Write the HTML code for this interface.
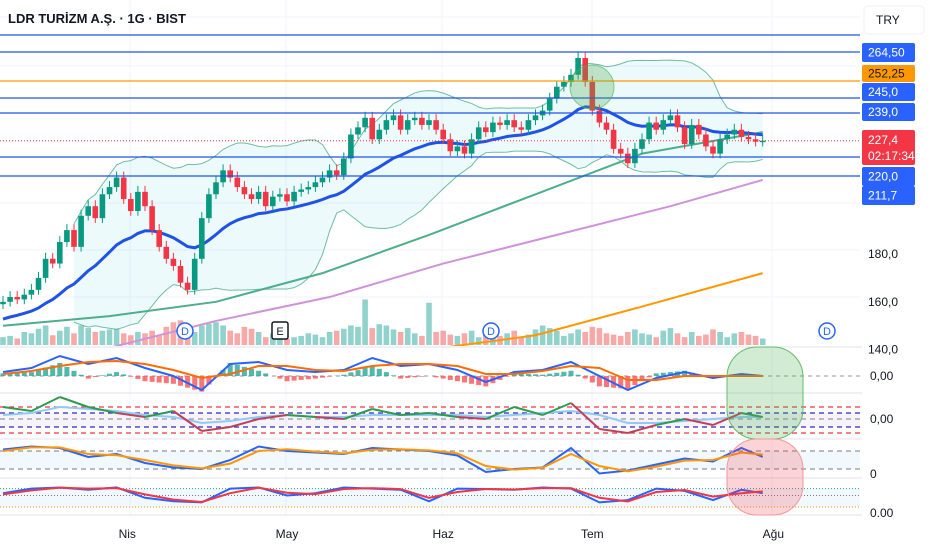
<!DOCTYPE html>
<html><head><meta charset="utf-8"><style>
body{margin:0;background:#fff;font-family:"Liberation Sans",sans-serif}
#wrap{position:relative;width:932px;height:550px;overflow:hidden}
svg{position:absolute;left:0;top:0}
</style></head><body>
<div id="wrap">
<svg id="c" width="932" height="550"></svg>
</div>
<script>
// ---------- DATA ----------
const closes=[160,162,161,163,165,170,178,176,185,190,183,196,200,195,205,208,212,203,198,206,200,190,183,178,175,168,165,178,195,205,210,215,212,208,205,203,206,200,204,205,202,206,207,208,210,212,215,213,220,230,233,237,228,232,236,238,232,236,237,234,236,232,228,223,225,222,228,233,231,235,234,236,233,232,236,238,240,245,250,252,255,262,252,240,235,232,224,222,218,224,228,235,232,236,238,233,226,234,230,225,222,228,230,232,229,228,227,227.4];
const volumes=[12,14,10,20,18,25,30,15,22,28,18,30,26,20,22,24,25,18,15,20,18,22,14,28,35,38,32,20,30,33,35,30,22,18,28,25,20,12,18,16,10,12,14,18,16,12,20,22,25,30,28,70,26,32,30,24,20,26,18,14,65,20,22,16,14,18,22,12,20,26,14,18,22,12,16,24,30,26,22,14,18,24,20,28,26,18,16,14,20,24,18,16,12,22,26,18,12,20,14,16,24,20,12,18,20,16,14,10];
const ma50Idx=[0,15,30,45,60,75,90,107];
const ma50=[150,154,160,172,188,205,222,231];
const ma100Idx=[14,30,46,62,78,94,107];
const ma100=[140,152,162,176,188,200,211];
const ma200Idx=[60,75,90,107];
const ma200=[140,146,158,172];
const oscIdx=[0,4,8,12,16,20,24,28,32,36,40,44,48,52,56,60,64,68,72,76,80,84,88,92,96,100,104,107];
const macd=[4,8,20,12,18,8,0,-14,12,14,6,4,6,18,10,12,6,-6,4,6,14,0,-14,-2,4,-2,2,0];
const macdSig=[2,5,10,14,15,12,6,-2,2,10,10,6,5,10,12,12,10,2,2,5,10,8,-4,-4,0,0,0,0];
const osc2=[12,8,22,12,6,2,8,-12,-8,0,4,2,0,10,4,6,2,0,12,4,16,-10,-14,-6,0,-6,6,2];
const osc2Sig=[4,6,12,10,8,4,2,-4,-2,2,4,2,2,4,4,4,4,2,4,6,8,4,-4,-4,-2,0,2,2];
const stochK=[85,95,90,60,70,40,25,20,50,95,80,75,70,90,85,80,65,10,20,25,90,5,15,35,55,45,90,60];
const stochD=[80,92,92,70,66,50,32,22,38,80,86,78,72,84,86,82,72,30,18,24,70,30,12,28,48,50,75,68];
const rsiK=[60,80,85,75,85,40,25,20,80,85,50,60,85,80,75,25,80,78,75,85,80,20,30,80,70,30,75,60];
const rsiD=[55,72,84,80,82,55,32,22,60,84,62,56,78,82,78,40,65,78,76,82,82,40,24,65,74,45,60,68];
const priceTicks=[180,160,140];
const months=["Nis","May","Haz","Tem","Ağu"];
const monthIdx=[17.5,40,62,83,108.5];
// ---------- SCALES ----------
const X=i=>3+i*7.1;
const Y=v=>113+(239-v)*2.39;
const NS='http://www.w3.org/2000/svg';
const svg=document.getElementById('c');
function el(t,a,p){const e=document.createElementNS(NS,t);for(const k in a)e.setAttribute(k,a[k]);(p||svg).appendChild(e);return e;}
function txt(s,x,y,a){const e=el('text',Object.assign({x:x,y:y,'font-size':12,fill:'#131722','font-family':'Liberation Sans, sans-serif'},a||{}));e.textContent=s;return e;}
function poly(xs,ys,a){return el('polyline',Object.assign({points:xs.map((x,i)=>x+','+ys[i]).join(' '),fill:'none'},a));}
// grid
[130,286,442,592,772].forEach(x=>{const g=el('line',{x1:x,y1:0,x2:x,y2:515,stroke:'#f0f3fa'});

});
[17,66,203,250,297].forEach(y=>el('line',{x1:0,y1:y,x2:860,y2:y,stroke:'#f0f3fa'}));
[347,393,439,478,515].forEach(y=>{const l=el('line',{x1:0,y1:y,x2:932,y2:y,stroke:'#e0e3eb'});

});
// Bollinger
const up=[],lo=[];
closes.forEach((c,i)=>{const s=closes.slice(Math.max(0,i-19),i+1);const m=s.reduce((a,b)=>a+b)/s.length;const sd=Math.sqrt(s.reduce((a,b)=>a+(b-m)*(b-m),0)/s.length);up.push(m+2*sd);lo.push(m-2*sd);});
const B0=10;
const bIdx=[];for(let i=B0;i<closes.length;i++)bIdx.push(i);
const bbPts=bIdx.map(i=>X(i)+','+Y(up[i])).concat(bIdx.slice().reverse().map(i=>X(i)+','+Y(lo[i]))).join(' ');
const bb=el('polygon',{points:bbPts,fill:'rgba(0,188,212,0.07)',stroke:'none'});


const bu=poly(bIdx.map(X),bIdx.map(i=>Y(up[i])),{stroke:'#4caf8a',"stroke-width":1,opacity:0.8});


const bl=poly(bIdx.map(X),bIdx.map(i=>Y(lo[i])),{stroke:'#4caf8a',"stroke-width":1,opacity:0.8});


// volumes
closes.forEach((c,i)=>{const o=i?closes[i-1]:c;const h=volumes[i]*0.65;const r=el('rect',{x:X(i)-2.8,y:345-h,width:5.6,height:h,fill:c>=o?'rgba(38,166,154,0.5)':'rgba(239,83,80,0.5)'});

});
el('clipPath',{id:'mc'});
el('rect',{width:860,height:346},document.getElementById('mc'));
const gMain=el('g',{'clip-path':'url(#mc)'});
function maLine(idx,vals,col,w,name){const l=poly(idx.map(X),vals.map(Y),{stroke:col,'stroke-width':w});gMain.appendChild(l);

}
maLine(ma50Idx,ma50,'#4caf8a',2,'ma50-line');
maLine(ma100Idx,ma100,'#ce93d8',2,'ma100-line');
maLine(ma200Idx,ma200,'#ff9800',2,'ma200-line');
const ema=[];let e=152;closes.forEach(c=>{e=e+(c-e)*2/21;ema.push(e);});
maLine(closes.map((c,i)=>i),ema,'#1e53e5',3,'ema20-line');
[[35,'#1e53e5'],[52,'#1e53e5'],[98,'#1e53e5'],[113,'#1e53e5'],[157,'#1e53e5'],[176,'#1e53e5'],[81,'#ff9800']].forEach(a=>{const l=el('line',{x1:0,y1:a[0],x2:860,y2:a[0],stroke:a[1],'stroke-width':1.3});

});
const pl=el('line',{x1:0,y1:Y(227.4),x2:860,y2:Y(227.4),stroke:'#f23645','stroke-dasharray':'1 2'});


closes.forEach((c,i)=>{const o=i?closes[i-1]:c-1;const col=c>=o?'#089981':'#f23645';const hi=Math.max(o,c)+2.5,lw=Math.min(o,c)-2;
const w=el('line',{x1:X(i),y1:Y(hi),x2:X(i),y2:Y(lw),stroke:col,'stroke-width':1});


const b=el('rect',{x:X(i)-2.8,y:Y(Math.max(o,c)),width:5.6,height:Math.max(1.5,Math.abs(Y(o)-Y(c))),fill:col});


gMain.appendChild(w);gMain.appendChild(b);});
const gc=el('circle',{cx:592,cy:87,r:22,fill:'rgba(76,175,80,0.3)',stroke:'rgba(76,175,80,0.6)'});


[185,491,827].forEach(x=>{const g=el('g',{});
el('circle',{cx:x,cy:331,r:8,fill:'#fff',stroke:'#2962ff','stroke-width':1.5},g);
const t=el('text',{x:x,y:335,'text-anchor':'middle','font-size':11,fill:'#2962ff','font-family':'Liberation Sans'},g);t.textContent='D';});
const eg=el('g',{});
el('rect',{x:272,y:322,width:16,height:17,fill:'#fff',stroke:'#131722','stroke-width':1.5,rx:2},eg);
const et=el('text',{x:280,y:335,'text-anchor':'middle','font-size':11,fill:'#131722','font-family':'Liberation Sans'},eg);et.textContent='E';
// ----- oscillator panes -----
const OX=oscIdx.map(X);
el('line',{x1:0,y1:376,x2:860,y2:376,stroke:'#9598a1','stroke-dasharray':'4 4'});
function interp(arr,i){for(let k=0;k<oscIdx.length-1;k++){if(i<=oscIdx[k+1]){const t=(i-oscIdx[k])/(oscIdx[k+1]-oscIdx[k]);return arr[k]+(arr[k+1]-arr[k])*t;}}return arr[arr.length-1];}
closes.forEach((c,i)=>{const h=(interp(macd,i)-interp(macdSig,i))*1.3;const r=el('rect',{x:X(i)-2.5,y:h>0?376-h:376,width:5,height:Math.abs(h),fill:h>0?'#26a69a':'#ff5252',opacity:0.8});

});
let l1=poly(OX,macd.map(v=>376-v),{stroke:'#2962ff','stroke-width':2});
let l2=poly(OX,macdSig.map(v=>376-v),{stroke:'#ff6d00','stroke-width':2});
el('rect',{x:0,y:413,width:860,height:14,fill:'rgba(126,87,194,0.07)'});
[[407,'#f23645'],[413,'#2a2ab8'],[419,'#9598a1'],[427,'#2a2ab8'],[433,'#f23645']].forEach(a=>el('line',{x1:0,y1:a[0],x2:860,y2:a[0],stroke:a[1],'stroke-dasharray':'5 4','stroke-width':1.3}));
let l3=poly(OX,osc2Sig.map(v=>419-v),{stroke:'#90caf9','stroke-width':2});
for(let k=0;k<OX.length-1;k++){const s=el('line',{x1:OX[k],y1:419-osc2[k],x2:OX[k+1],y2:419-osc2[k+1],stroke:(osc2[k]+osc2[k+1])>=(osc2Sig[k]+osc2Sig[k+1])?'#2e9b4f':'#c0405a','stroke-width':2});

}
const S4=v=>475-v*0.3;
el('rect',{x:0,y:S4(80),width:860,height:S4(20)-S4(80),fill:'rgba(33,150,243,0.06)'});
[80,20].forEach(v=>el('line',{x1:0,y1:S4(v),x2:860,y2:S4(v),stroke:'#787b86','stroke-dasharray':'5 4'}));
let l4=poly(OX,stochK.map(S4),{stroke:'#2962ff','stroke-width':2});
let l5=poly(OX,stochD.map(S4),{stroke:'#ff9800','stroke-width':2});
const S5=v=>507-v*0.23;
el('rect',{x:0,y:S5(80),width:860,height:S5(0)-S5(80),fill:'rgba(33,150,243,0.06)'});
el('line',{x1:0,y1:S5(80),x2:860,y2:S5(80),stroke:'#26a69a','stroke-dasharray':'1 2'});
el('line',{x1:0,y1:S5(50),x2:860,y2:S5(50),stroke:'#787b86','stroke-dasharray':'1 2'});
el('line',{x1:0,y1:S5(0),x2:860,y2:S5(0),stroke:'#ff9800','stroke-dasharray':'1 2'});
let l6=poly(OX,rsiK.map(S5),{stroke:'#2962ff','stroke-width':2});
let l7=poly(OX,rsiD.map(S5),{stroke:'#f23645','stroke-width':2});
[[347,439,'rgba(76,175,80,0.25)','#66bb6a'],[439,515,'rgba(242,54,69,0.22)','#ef9a9a']].forEach(a=>{const r=el('rect',{x:727,y:a[0],width:76,height:a[1]-a[0],rx:30,fill:a[2],stroke:a[3]});

});
// right axis
el('rect',{x:862,y:0,width:70,height:550,fill:'#fff'});
priceTicks.forEach(v=>{const t=txt(v.toFixed(1).replace('.',','),868,Y(v)+4);});
[['0,00',380],['0,00',423],['0',478],['0.00',517]].forEach(a=>txt(a[0],870,a[1]));
function tag(s,y,h,col,fc,name){const g=el('g',{});
el('rect',{x:862,y:y,width:53,height:h,fill:col,rx:2},g);const t=el('text',{x:868,y:y+h/2+4,'font-size':12,fill:fc,'font-family':'Liberation Sans'},g);t.textContent=s;return g;}
tag('264,50',43,19,'#2962ff','#fff','level-label-264');
tag('252,25',65,17,'#ff9800','#131722','level-label-252');
tag('245,0',83,18,'#2962ff','#fff','level-label-245');
tag('239,0',103,18,'#2962ff','#fff','level-label-239');
const pg=el('g',{});
el('rect',{x:862,y:130,width:53,height:35,fill:'#f23645',rx:2},pg);
const pt1=el('text',{x:868,y:144,'font-size':12,fill:'#fff','font-family':'Liberation Sans'},pg);pt1.textContent='227,4';
const pt=el('text',{x:868,y:160,'font-size':12,fill:'#fff','font-family':'Liberation Sans'},pg);pt.textContent='02:17:34';
tag('220,0',167,19,'#2962ff','#fff','level-label-220');
tag('211,7',186,19,'#2962ff','#fff','level-label-211');
const tr=el('g',{});
el('rect',{x:864,y:6,width:60,height:28,fill:'#fff',stroke:'#eef0f3',rx:4},tr);
const trt=el('text',{x:876,y:24,'font-size':12,fill:'#131722','font-family':'Liberation Sans'},tr);trt.textContent='TRY';
months.forEach((m,k)=>{const t=txt(m,X(monthIdx[k]),538,{'text-anchor':'middle','font-size':12});});
const ti=txt('LDR TURİZM A.Ş. · 1G · BIST',8,23,{'font-size':13,'font-weight':'bold'});


</script>
</body></html>
